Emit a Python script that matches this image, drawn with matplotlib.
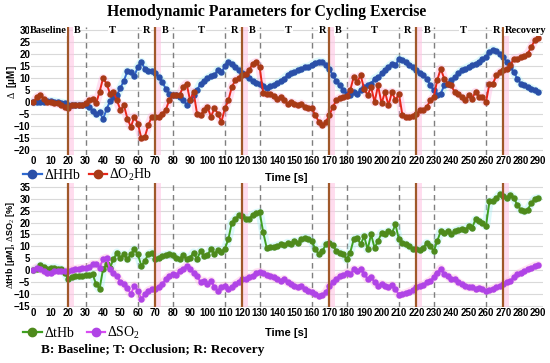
import numpy as np
import matplotlib
matplotlib.use("Agg")
import matplotlib.pyplot as plt
from matplotlib.lines import Line2D

plt.rcParams["mathtext.fontset"] = "custom"
plt.rcParams["mathtext.rm"] = "Liberation Serif"
plt.rcParams["mathtext.bf"] = "Liberation Serif:bold"

# === DATA (2 s steps) ===
time_s = list(range(0, 292, 2))

hhb = [0, 0, 0.2, 0.3, 0.4, 0.5, 0.3, 0, -0.2, -0.5,
       -1, -1.2, -1.2, -1, -1, -1, -2, -3.5, -5, -4,
       -7, -3, 0.5, 2, 3, 6, 9, 13, 12.5, 11,
       14.7, 16.8, 14, 13, 13, 12, 10.5, 8.5, 5.7, 3.6,
       3, 3, 2.2, 1, -1, 1, 3, 5, 7.8, 9,
       10, 11, 11.5, 13.5, 12.5, 15, 16.8, 16, 14.5, 13.3,
       12.3, 11.2, 10, 8.8, 8.2, 7.5, 6.6, 6, 6.8, 7.2,
       8, 8.7, 9.9, 11.2, 12, 12.6, 13.3, 14, 14.7, 14.7,
       15.7, 16.5, 17, 16.8, 15.7, 14, 11.2, 8.7, 7, 5,
       3.6, 2.9, 4.3, 3.6, 5, 6.4, 7, 7.8, 9.9, 10.5,
       12, 13.5, 14.7, 16, 15.4, 18.2, 17.5, 16.8, 15.7, 14.7,
       13.3, 12, 11.2, 9.9, 7, 5, 2.9, 3.6, 7, 7.8,
       9.2, 10.5, 12, 13.3, 14, 14.7, 15.4, 16.1, 16.8, 18.2,
       18.9, 21, 22, 21.2, 20.3, 18.9, 16.8, 14.7, 12.6, 9.9,
       7.8, 7, 6.4, 5.7, 5, 4.3]

o2hb = [0, 2.2, 3, 1.5, 0, 0, -0.5, -0.5, -1, -2,
        -2.6, -1.3, -1, -1, -1, -0.5, 0.8, 1.5, -0.5, 4.3,
        10, 7.8, 3.6, 4.3, 0.8, -3.3, -1.3, -6.8, -10.3, -6,
        -8.9, -15, -14.4, -9.6, -6, -6, -6, -4.7, -3.3, 0.8,
        3, 3, 3, 6.4, 7.8, 0.8, 4.3, -4.7, -5.4, -3.3,
        -2, -6, -2.6, -4.7, -8.2, -2.6, 0.8, 6.4, 9.2, 10,
        11.2, 11.8, 13.5, 16.1, 16.8, 14.5, 4, 3.3, 3.6, 2.5,
        1.2, 2.2, 0.8, -0.6, 0, -0.6, -1.3, -0.6, -2, -2.6,
        -2.6, -5.4, -8.2, -9.6, -8.2, -5.4, -2, 0.8, 1.8, 2.2,
        2.6, 5, 10.5, 8.5, 11.2, 5.7, 2.9, 6.4, 0, 7,
        -0.5, 4.3, -1.3, 4.3, 0.8, 3.6, -5.4, -6.1, -6.1, -5.7,
        -5.1, -3.3, -3.3, -2, 0.8, 2.2, 9.2, 14, 9.9, 7.8,
        7, 4.3, 3.6, 2.2, 0.8, 2.9, 1.5, 4.3, 2.2, 2.2,
        0, 7.8, 7.8, 11.2, 12.6, 13.3, 14, 15.4, 18.2, 18.2,
        18.9, 19.3, 20.3, 23, 25.8, 26.8]

thb = [0, 0.5, 2, 1.4, 0.7, 0.8, 1.1, 0.7, 0.4, -1,
       -3.8, -3, -2.6, -2.6, -2.4, -2, -2, -1.7, -5.8, -7.9,
       0.4, 2.5, 1.1, 4.6, 7.4, 5.3, 6.7, 4.6, 6.7, 8.8,
       6.7, 1.8, 3.9, 6.7, 7.4, 4.6, 5.3, 6, 6.3, 6.7,
       6.3, 5.3, 4.6, 6.3, 4.6, 5.3, 7.4, 4.6, 8, 6,
       6.5, 8.8, 7, 8.5, 7.8, 9, 13, 20, 21.5, 23,
       22.6, 21.6, 21.6, 23.3, 24, 24.3, 16, 9.5, 9.7, 9.8,
       10.2, 10.8, 10.4, 11.5, 10.8, 12.2, 11.5, 12.9, 13.6, 13.2,
       12.2, 8.75, 6.7, 8, 10.8, 11.5, 10.4, 8, 7.4, 6.7,
       4.5, 7.4, 12.9, 13.6, 10.8, 14.3, 8.75, 15, 9.4, 12.2,
       15.7, 15, 16.4, 15.7, 19.2, 12.9, 11.5, 10.8, 10.1, 9,
       8.75, 8.5, 9.4, 11.5, 10.1, 8, 12.2, 16.4, 15.7, 16.4,
       15, 16.4, 17, 17.4, 17, 18.5, 17.8, 21.3, 20.6, 19.9,
       18.5, 28.9, 28.9, 30.3, 32, 31, 30.3, 31.7, 30.3, 27.5,
       25.4, 24.7, 25.4, 28.2, 29.9, 30.3]

so2 = [0, 1.1, 0.4, -0.3, -1, -1, -0.3, -0.3, -0.3, -0.3,
       -0.3, 0, 0.4, 0.7, 0.8, 1.1, 1.4, 2.5, 2.5, 1.1,
       4.6, 5.2, 0.4, -1, -2.4, -5.1, -5.8, -7.6, -10, -6.5,
       -8.6, -12.1, -10, -8.6, -7.9, -7.9, -7.2, -5.8, -3.8, -2.4,
       -1.7, -2.1, -0.3, 0.4, 1.8, 0.4, -1, -2.4, -5.1, -4.4,
       -5.8, -4.4, -7.2, -8.6, -7.2, -6.5, -7.9, -7.2, -5.8, -4.9,
       -3.8, -3.8, -3, -2.4, -1, -0.7, -1.2, -2.1, -2.6, -3,
       -3.8, -4.4, -3.75, -5.1, -5.8, -6.5, -7.2, -6.8, -7.9, -8.6,
       -9.3, -10, -10.7, -10.4, -9.3, -6.5, -5.1, -3.75, -2.4, -2.1,
       -1, -1.7, 0.4, -0.3, 0.4, -1.7, -3.75, -3, -5.1, -6.5,
       -5.8, -6.5, -7.2, -6.3, -7.9, -10.4, -10, -9.6, -9, -8.3,
       -7.2, -6.5, -6.3, -5.1, -4.4, -3, -1, 0.7, -1.7, -2.4,
       -3.75, -3.5, -5.1, -5.8, -6.8, -7.2, -7.2, -7.9, -7.6, -7.9,
       -8.6, -8.2, -7.9, -7.2, -6.5, -5.8, -5.1, -4.4, -3, -1.7,
       -1, -0.3, 0.4, 1.1, 1.8, 2.1]

# phase markers
recovery_lines = [20, 70, 120, 170, 220, 270]
phase_lines = [30, 60, 80, 110, 130, 160, 180, 210, 230, 260]
phase_labels = ["Baseline", "B", "T", "R", "B", "T", "R", "B", "T", "R",
                "B", "T", "R", "B", "T", "R", "Recovery"]
phase_label_pos = [8.5, 25, 45.5, 65, 75.5, 96.5, 115.5, 126, 146.5, 166,
                   175, 196, 215, 226, 247, 266, 283]

x_ticks = list(range(0, 300, 10))

BLUE, BLUE_M = "#2f6ad0", "#2a4fa8"
RED, RED_M = "#e8261a", "#a83a16"
GREEN, GREEN_M = "#3fa021", "#4e8a1c"
MAG, MAG_M = "#d84cf2", "#b044e6"
BROWN = "#a0582a"

tick_font = dict(family="Liberation Sans", weight="bold", size=7)
serif = "Liberation Serif"


def draw_series(ax, y, color, mcolor, glow):
    ax.plot(time_s, y, color=glow, lw=6, alpha=0.35, solid_capstyle="round", zorder=3)
    ax.plot(time_s, y, color=color, lw=1.4, marker="o", ms=3.6,
            mfc=mcolor, mec=mcolor, zorder=4)


def style_axes(ax, ylim, yticks):
    ax.set_xlim(-1.5, 293)
    ax.set_ylim(*ylim)
    ax.set_yticks(yticks)
    ax.set_xticks(x_ticks)
    ax.grid(axis="y", color="#d9d9d9", lw=0.8)
    ax.set_axisbelow(True)
    for s in ax.spines.values():
        s.set_visible(False)
    ax.tick_params(axis="x", length=0, pad=1)
    ax.tick_params(axis="y", length=0, pad=0.5)
    for lab in ax.get_xticklabels() + ax.get_yticklabels():
        lab.set_fontproperties(tick_font)
    for x in recovery_lines:
        ax.axvline(x + 1, color="#ffc6e4", lw=5, alpha=0.6, zorder=1)
        ax.axvline(x, color=BROWN, lw=1.6, zorder=5)
    for x in phase_lines:
        ax.axvline(x, color="#7f7f7f", lw=1.0, ls=(0, (4, 3)), zorder=2)


fig = plt.figure(figsize=(5.5, 3.63), dpi=100)
ax1 = fig.add_axes([0.056, 0.573, 0.932, 0.352])
ax2 = fig.add_axes([0.056, 0.154, 0.932, 0.341])

# === TOP PANEL ===
draw_series(ax1, hhb, BLUE, BLUE_M, "#9ff0f5")
draw_series(ax1, o2hb, RED, RED_M, "#ffa8dc")
style_axes(ax1, (-22, 31.3), range(-20, 31, 5))
for lab, x in zip(phase_labels, phase_label_pos):
    ax1.text(x, 30, lab, ha="center", va="center", family=serif,
             weight="bold", size=7.5, zorder=6,
             bbox=dict(fc="white", ec="none", pad=0.6))
ax1.set_ylabel(r"$\Delta$  [μM]", family="Liberation Sans", weight="bold",
               size=7, va="center")
ax1.yaxis.set_label_coords(-0.037, 0.57)

# === BOTTOM PANEL ===
draw_series(ax2, thb, GREEN, GREEN_M, "#9ff0f5")
draw_series(ax2, so2, MAG, MAG_M, "#ffa8dc")
style_axes(ax2, (-15.5, 36.5), range(-15, 36, 5))
ax2.set_ylabel(r"$\Delta$tHb [μM], $\Delta$SO$_2$ [%]", family="Liberation Sans",
               weight="bold", size=6.5, va="center")
ax2.yaxis.set_label_coords(-0.039, 0.5)

# === TEXT & LEGENDS ===
fig.text(0.484, 0.967, "Hemodynamic Parameters for Cycling Exercise",
         ha="center", va="center", family=serif, weight="bold", size=11.3)

def handle(c, m):
    return Line2D([], [], color=c, lw=1.6, marker="o", ms=6, mfc=m, mec=m)

fig.legend([handle(BLUE, BLUE_M), handle(RED, RED_M)],
           [r"$\Delta$HHb", r"$\Delta$O$_2$Hb"], loc="center left",
           bbox_to_anchor=(0.03, 0.518), ncol=2, frameon=False,
           prop=dict(family=serif, size=10), handlelength=1.3,
           handletextpad=0.2, columnspacing=0.5, borderpad=0)
fig.legend([handle(GREEN, GREEN_M), handle(MAG, MAG_M)],
           [r"$\Delta$tHb", r"$\Delta$SO$_2$"], loc="center left",
           bbox_to_anchor=(0.03, 0.083), ncol=2, frameon=False,
           prop=dict(family=serif, size=10), handlelength=1.3,
           handletextpad=0.2, columnspacing=0.8, borderpad=0)
fig.text(0.52, 0.51, "Time [s]", ha="center", va="center",
         family="Liberation Sans", weight="bold", size=8)
fig.text(0.52, 0.083, "Time [s]", ha="center", va="center",
         family="Liberation Sans", weight="bold", size=8)
fig.text(0.277, 0.036, "B: Baseline; T: Occlusion; R: Recovery", ha="center",
         va="center", family=serif, weight="bold", size=9.6)

fig.savefig("out.png", dpi=100)
